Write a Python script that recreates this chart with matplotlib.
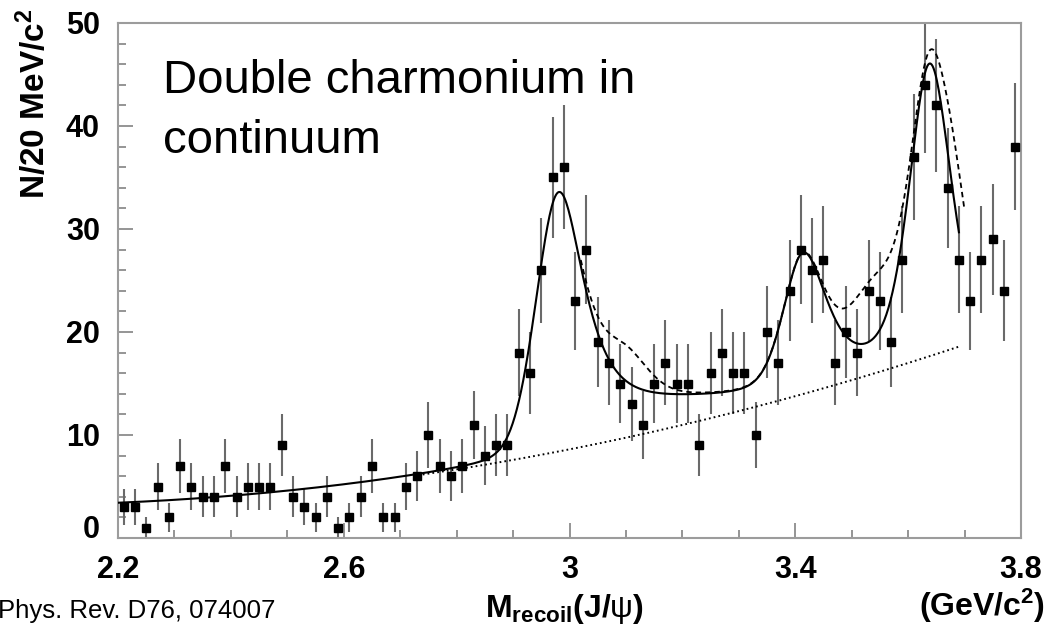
import numpy as np
import matplotlib
matplotlib.use("Agg")
import matplotlib.pyplot as plt
from matplotlib.ticker import MultipleLocator

# ---- recoil-mass histogram (20 MeV bins from 2.2 GeV) ----
bin_low = 2.2
bin_width = 0.02
counts = [3, 3, 1, 5, 2, 7, 5, 4, 4, 7,
          4, 5, 5, 5, 9, 4, 3, 2, 4, 1,
          2, 4, 7, 2, 2, 5, 6, 10, 7, 6,
          7, 11, 8, 9, 9, 18, 16, 26, 35, 36,
          23, 28, 19, 17, 15, 13, 11, 15, 17, 15,
          15, 9, 16, 18, 16, 16, 10, 20, 17, 24,
          28, 26, 27, 17, 20, 18, 24, 23, 19, 27,
          37, 44, 42, 34, 27, 23, 27, 29, 24, 38]

# ---- fit model parameters ----
bkg_coef = [3.4, 2.245, 5.33]           # polynomial in (m - 2.2)
fit_range = (2.2, 3.69)
# mass, amplitude, sigma_lo, sigma_hi, tail_lo, tail_hi
peaks_main = [
    (2.981, 24.7, 0.040, 0.048, 0.10, 0.90),   # eta_c
    (3.170, 1.4, 0.120, 0.120, 0.00, 0.00),    # broad continuum shoulder
    (3.414, 12.8, 0.035, 0.042, 0.30, 0.60),   # chi_c0
    (3.638, 27.9, 0.036, 0.037, 0.40, 0.30),   # eta_c(2S)
]
peaks_extra = [
    (3.100, 3.5, 0.040, 0.040, 0.30, 0.30),    # J/psi
    (3.540, 6.0, 0.040, 0.040, 0.00, 0.00),
    (3.686, 6.0, 0.025, 0.025, 0.00, 0.00),    # psi(2S)
]
alt_range = (3.02, 3.70)
bkg_show_from = 2.74

x_ticks = [2.2, 2.6, 3.0, 3.4, 3.8]
x_ticklabels = ["2.2", "2.6", "3", "3.4", "3.8"]
y_ticks = [0, 10, 20, 30, 40, 50]

W, H = 1060, 633


def background(m):
    t = m - bin_low
    return sum(c * t ** i for i, c in enumerate(bkg_coef))


def line_shape(m, mass, amp, s_lo, s_hi, f_lo, f_hi):
    d = m - mass
    s = np.where(d < 0, s_lo, s_hi)
    f = np.where(d < 0, f_lo, f_hi)
    gauss = np.exp(-0.5 * (d / s) ** 2)
    lor = 1.0 / (1.0 + (d / (1.177 * s)) ** 2)
    return amp * ((1 - f) * gauss + f * lor)


def model(m, peaks):
    return background(m) + sum(line_shape(m, *p) for p in peaks)


plt.rcParams['font.family'] = ['Liberation Sans', 'DejaVu Sans']
plt.rcParams['mathtext.fontset'] = 'custom'
plt.rcParams['mathtext.rm'] = 'Liberation Sans:bold'
plt.rcParams['mathtext.bf'] = 'Liberation Sans:bold'
plt.rcParams['mathtext.it'] = 'Liberation Sans'

fig = plt.figure(figsize=(W / 100, H / 100), dpi=100)
ax = fig.add_axes([118 / W, 95 / H, 903 / W, 515 / H])

counts_arr = np.asarray(counts, dtype=float)
centres = bin_low + bin_width * (np.arange(len(counts_arr)) + 0.5)

ax.errorbar(centres, counts_arr, yerr=np.sqrt(counts_arr), fmt='none',
            ecolor='#6a6a6a', elinewidth=1.5, capsize=0, zorder=2)
ax.plot(centres, counts_arr, 's', color='black', ms=5.8, zorder=4)

m_fit = np.linspace(*fit_range, 800)
ax.plot(m_fit, model(m_fit, peaks_main), '-', color='black', lw=1.5, zorder=3)

m_alt = np.linspace(*alt_range, 500)
ax.plot(m_alt, model(m_alt, peaks_main + peaks_extra), color='black', lw=1.3,
        dashes=(3.0, 2.2), zorder=3)

m_bkg = np.linspace(bkg_show_from, fit_range[1], 400)
ax.plot(m_bkg, background(m_bkg), color='black', lw=1.4, dashes=(0.9, 1.6), zorder=3)

ax.set_xlim(2.2, 3.8)
ax.set_ylim(0, 50)
ax.set_xticks(x_ticks)
ax.set_xticklabels(x_ticklabels)
ax.set_yticks(y_ticks)
ax.xaxis.set_minor_locator(MultipleLocator(0.1))
ax.yaxis.set_minor_locator(MultipleLocator(2))

for s in ax.spines.values():
    s.set_color('#9c9c9c')
    s.set_linewidth(1.5)

ax.tick_params(which='both', direction='in', top=False, right=False,
               color='#8c8c8c', width=1.3)
ax.tick_params(which='major', length=11)
ax.tick_params(which='minor', length=5.5)
ax.tick_params(axis='x', which='major', pad=12)
ax.tick_params(axis='y', which='major', pad=13)
for lab in ax.get_xticklabels() + ax.get_yticklabels():
    lab.set_fontweight('bold')
    lab.set_fontsize(22)
ax.get_yticklabels()[0].set_verticalalignment('baseline')


def fx(px):
    return px / W


def fy(py):
    return 1 - py / H


fig.text(fx(34), fy(8), r"N/20 MeV/c$^{\mathbf{2}}$", rotation=90, ha='center', va='top',
         fontsize=24, fontweight='bold')

fig.text(fx(163), fy(93), "Double charmonium in", fontsize=34,
         va='baseline', ha='left')
fig.text(fx(163), fy(153), "continuum", fontsize=34,
         va='baseline', ha='left')

fig.text(fx(564), fy(617), r"$\mathbf{M}_{\mathbf{recoil}}\mathbf{(J/}\psi\mathbf{)}$",
         fontsize=23, ha='center', va='baseline')
fig.text(fx(1045), fy(616), r"$\mathbf{(GeV/c^{2})}$", fontsize=23,
         ha='right', va='baseline')
fig.text(fx(-2), fy(618), "Phys. Rev. D76, 074007", fontsize=18.5,
         ha='left', va='baseline')

fig.savefig("out.png", dpi=100)
